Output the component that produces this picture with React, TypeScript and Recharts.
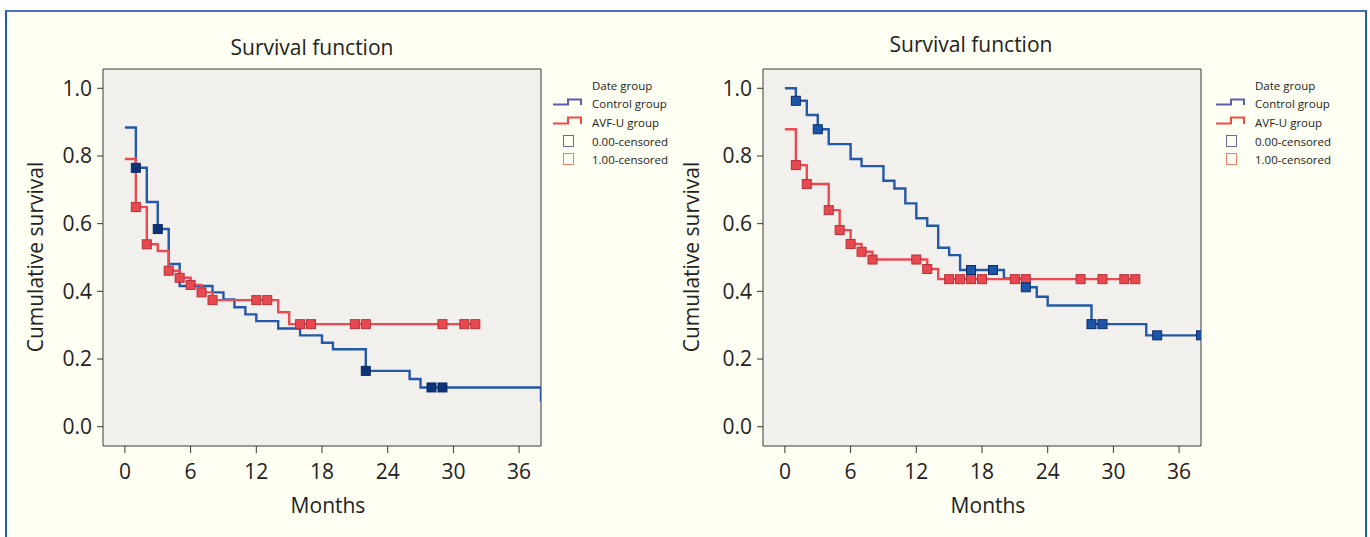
import React from 'react';
import { ComposedChart, Line, Scatter, XAxis, YAxis, ReferenceArea } from 'recharts';

// ---- data ----
const monthTicks = [0, 6, 12, 18, 24, 30, 36];
const survivalTicks = [0, 0.2, 0.4, 0.6, 0.8, 1.0];

// Left panel
const leftControlTimes = [0, 1, 2, 3, 4, 5, 8, 9, 10, 11, 12, 14, 16, 18, 19, 22, 26, 27, 38];
const leftControlSurv = [0.884, 0.765, 0.664, 0.584, 0.481, 0.416, 0.397, 0.376, 0.353, 0.332, 0.312, 0.29, 0.27, 0.248, 0.229, 0.165, 0.141, 0.116, 0.074];
const leftControlCensorTimes = [1, 3, 22, 28, 29];
const leftControlCensorSurv = [0.765, 0.584, 0.165, 0.116, 0.116];

const leftAvfTimes = [0, 1, 2, 3, 4, 5, 6, 7, 8, 14, 15, 32];
const leftAvfSurv = [0.791, 0.649, 0.539, 0.519, 0.461, 0.44, 0.419, 0.397, 0.374, 0.338, 0.303, 0.303];
const leftAvfCensorTimes = [1, 2, 4, 5, 6, 7, 8, 12, 13, 16, 17, 21, 22, 29, 31, 32];
const leftAvfCensorSurv = [0.649, 0.539, 0.461, 0.44, 0.419, 0.397, 0.374, 0.374, 0.374, 0.303, 0.303, 0.303, 0.303, 0.303, 0.303, 0.303];

// Right panel
const rightControlTimes = [0, 1, 2, 3, 4, 6, 7, 9, 10, 11, 12, 13, 14, 15, 16, 20, 22, 23, 24, 28, 33, 38];
const rightControlSurv = [1.0, 0.963, 0.921, 0.879, 0.835, 0.791, 0.77, 0.727, 0.704, 0.66, 0.616, 0.594, 0.529, 0.507, 0.463, 0.438, 0.412, 0.384, 0.358, 0.303, 0.27, 0.27];
const rightControlCensorTimes = [1, 3, 17, 19, 22, 28, 29, 34, 38];
const rightControlCensorSurv = [0.963, 0.879, 0.463, 0.463, 0.412, 0.303, 0.303, 0.27, 0.27];

const rightAvfTimes = [0, 1, 2, 4, 5, 6, 7, 8, 13, 14, 32];
const rightAvfSurv = [0.879, 0.773, 0.717, 0.64, 0.581, 0.54, 0.517, 0.494, 0.466, 0.436, 0.436];
const rightAvfCensorTimes = [1, 2, 4, 5, 6, 7, 8, 12, 13, 15, 16, 17, 18, 21, 22, 27, 29, 31, 32];
const rightAvfCensorSurv = [0.773, 0.717, 0.64, 0.581, 0.54, 0.517, 0.494, 0.494, 0.466, 0.436, 0.436, 0.436, 0.436, 0.436, 0.436, 0.436, 0.436, 0.436, 0.436];

const legendLabels = ['Date group', 'Control group', 'AVF-U group', '0.00-censored', '1.00-censored'];

const zip = (t: number[], v: number[]) => t.map((x, i) => ({ t: x, v: v[i] }));

const FONT = '"Open Sans", sans-serif';
const BLUE = '#2458a8';
const RED = '#ea4a50';

const square = (fill: string, stroke: string) => (props: any) => {
  const { cx, cy } = props;
  if (cx == null || cy == null) return <g />;
  return <rect x={cx - 4.5} y={cy - 4.5} width={9} height={9} fill={fill} stroke={stroke} strokeWidth={1} />;
};

type PanelProps = {
  left: number;
  titleY: number;
  titleX: number;
  yLabelX: number;
  legendX: number;
  control: { t: number; v: number }[];
  controlCensor: { t: number; v: number }[];
  avf: { t: number; v: number }[];
  avfCensor: { t: number; v: number }[];
  blueMarkerFill: string;
};

const Panel = (p: PanelProps) => {
  const lx = p.legendX;
  return (
    <div style={{ position: 'absolute', left: p.left, top: 0, width: 660, height: 537 }}>
      <ComposedChart width={660} height={537} margin={{ top: 69, right: 119, bottom: 0, left: 15 }}>
        <XAxis
          type="number"
          dataKey="t"
          domain={[-2, 38]}
          ticks={monthTicks}
          allowDataOverflow
          height={91}
          tickSize={7}
          tickMargin={11}
          axisLine={false}
          tickLine={{ stroke: '#333' }}
          tick={{ fill: '#222', fontSize: 21, fontFamily: FONT }}
        />
        <YAxis
          type="number"
          domain={[-0.057, 1.057]}
          ticks={survivalTicks}
          allowDataOverflow
          width={88}
          tickSize={6}
          tickMargin={5}
          axisLine={false}
          tickLine={{ stroke: '#333' }}
          tickFormatter={(v: number) => v.toFixed(1)}
          tick={{ fill: '#222', fontSize: 21, fontFamily: FONT }}
        />
        <ReferenceArea x1={-2} x2={38} y1={-0.057} y2={1.057} fill="#f1f0ec" fillOpacity={1} stroke="#3a3a3a" strokeWidth={1} />
        <Line data={p.control} dataKey="v" type="stepAfter" stroke={BLUE} strokeWidth={2.4} dot={false} isAnimationActive={false} />
        <Line data={p.avf} dataKey="v" type="stepAfter" stroke={RED} strokeWidth={2.4} dot={false} isAnimationActive={false} />
        <Scatter data={p.avfCensor} dataKey="v" shape={square('#e84850', '#b83038')} isAnimationActive={false} />
        <Scatter data={p.controlCensor} dataKey="v" shape={square(p.blueMarkerFill, '#0c2a66')} isAnimationActive={false} />
      </ComposedChart>
      <svg width={660} height={537} style={{ position: 'absolute', left: 0, top: 0, pointerEvents: 'none', overflow: 'visible' }}>
        <text x={p.titleX} y={p.titleY} textAnchor="middle" dominantBaseline="central" fontSize={21} fontFamily={FONT} fill="#222">
          Survival function
        </text>
        <text
          x={p.yLabelX}
          y={257}
          textAnchor="middle"
          dominantBaseline="central"
          fontSize={21}
          fontFamily={FONT}
          fill="#222"
          transform={`rotate(-90 ${p.yLabelX} 257)`}
        >
          Cumulative survival
        </text>
        <text x={328} y={505} textAnchor="middle" dominantBaseline="central" fontSize={21} fontFamily={FONT} fill="#222">
          Months
        </text>
        {/* legend */}
        <path d={`M${lx} 104.5 H${lx + 15} V99.5 H${lx + 28} V105`} fill="none" stroke="#5a5fae" strokeWidth={2} />
        <path d={`M${lx} 123.5 H${lx + 15} V117.5 H${lx + 28} V124`} fill="none" stroke="#f04a44" strokeWidth={2} />
        <rect x={lx + 10.5} y={135.5} width={10} height={11} fill="none" stroke="#6a6a9a" strokeWidth={1} />
        <rect x={lx + 10.5} y={153.5} width={10} height={11} fill="none" stroke="#f0806c" strokeWidth={1} />
        {legendLabels.map((s, i) => (
          <text
            key={s}
            x={lx + 39}
            y={[85, 103.3, 122.3, 141, 159.3][i]}
            dominantBaseline="central"
            fontSize={11.5}
            fontFamily={FONT}
            fill="#222"
          >
            {s}
          </text>
        ))}
      </svg>
    </div>
  );
};

export default function App() {
  return (
    <div style={{ position: 'relative', width: 1370, height: 537, background: '#ffffff', overflow: 'hidden' }}>
      <style>{`body{margin:0;}`}</style>
      <div
        style={{
          position: 'absolute',
          left: 5,
          top: 10,
          width: 1358,
          height: 560,
          background: '#fffff3',
          borderLeft: '2px solid #2455c0',
          borderTop: '2px solid #4a70c4',
          borderRight: '2px solid #2455c0',
        }}
      />
      <Panel
        left={0}
        titleX={312}
        titleY={47}
        yLabelX={35}
        legendX={553}
        control={zip(leftControlTimes, leftControlSurv)}
        controlCensor={zip(leftControlCensorTimes, leftControlCensorSurv)}
        avf={zip(leftAvfTimes, leftAvfSurv)}
        avfCensor={zip(leftAvfCensorTimes, leftAvfCensorSurv)}
        blueMarkerFill="#0e3478"
      />
      <Panel
        left={660}
        titleX={311}
        titleY={44}
        yLabelX={31}
        legendX={556}
        control={zip(rightControlTimes, rightControlSurv)}
        controlCensor={zip(rightControlCensorTimes, rightControlCensorSurv)}
        avf={zip(rightAvfTimes, rightAvfSurv)}
        avfCensor={zip(rightAvfCensorTimes, rightAvfCensorSurv)}
        blueMarkerFill="#1c56a8"
      />
    </div>
  );
}
